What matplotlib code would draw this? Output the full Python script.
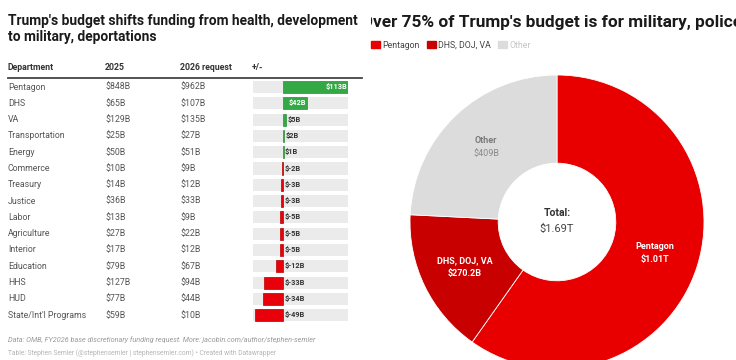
import numpy as np
import matplotlib
matplotlib.use("Agg")
import matplotlib.pyplot as plt
import matplotlib.patches as mpatches

plt.rcParams["font.family"] = ["Roboto", "DejaVu Sans"]

# table data (billions)
departments = ["Pentagon", "DHS", "VA", "Transportation", "Energy", "Commerce",
               "Treasury", "Justice", "Labor", "Agriculture", "Interior",
               "Education", "HHS", "HUD", "State/Int'l Programs"]
fy2025 = [848, 65, 129, 25, 50, 10, 14, 36, 13, 27, 17, 79, 127, 77, 59]
fy2026 = [962, 107, 135, 27, 51, 9, 12, 33, 9, 22, 12, 67, 94, 44, 10]
change = [113, 42, 5, 2, 1, -2, -3, -3, -5, -5, -5, -12, -33, -34, -49]
headers = ["Department", "2025", "2026 request", "+/-"]

# donut data
groups = ["Pentagon", "DHS, DOJ, VA", "Other"]
shares = [1010, 270.2, 409]
group_labels = ["$1.01T", "$270.2B", "$409B"]
total_label = "$1.69T"

W, H = 736, 360
fig = plt.figure(figsize=(W / 100, H / 100), dpi=100)
fig.patch.set_facecolor("white")


def px(left, top, width, height):
    return [left / W, 1 - (top + height) / H, width / W, height / H]


n = len(departments)
row0, step = 87, 16.3
top = row0 - step / 2
bot = row0 + step * (n - 1) + step / 2

# ---- left: table ----
fig.text(8 / W, 1 - 14 / H, "Trump's budget shifts funding from health, development\nto military, deportations",
         fontsize=9.9, fontweight="bold", color="#1a1a1a", va="top", ha="left", linespacing=1.15)

ax_t = fig.add_axes(px(0, top, 368, bot - top))
ax_t.set_xlim(0, 368)
ax_t.set_ylim(n - 0.5, -0.5)
ax_t.axis("off")
rows = np.arange(n)
hy = (68 - row0) / step
for x, h in zip([8, 105, 180, 252], headers):
    ax_t.text(x, hy, h, fontsize=6.3, fontweight="bold", color="#333333", va="center", clip_on=False)
ax_t.plot([8, 362], [(77.5 - row0) / step] * 2, color="#444444", lw=1.3, clip_on=False)
for i in rows:
    ax_t.text(8, i, departments[i], fontsize=6.3, color="#555555", va="center")
    ax_t.text(105, i, f"${fy2025[i]}B", fontsize=6.3, color="#555555", va="center")
    ax_t.text(180, i, f"${fy2026[i]}B", fontsize=6.3, color="#555555", va="center")

# bar column
ax_b = fig.add_axes(px(253, top, 95, bot - top))
xmin, xmax = -52.2, 113.0
ax_b.set_xlim(xmin, xmax)
ax_b.set_ylim(n - 0.5, -0.5)
ax_b.axis("off")
ax_b.barh(rows, xmax - xmin, left=xmin, height=0.74, color="#ebebeb")
cols = ["#34a844" if v > 0 else "#e8000b" for v in change]
edges = ["#2a9038" if v > 0 else "#b80000" for v in change]
ax_b.barh(rows, change, height=0.74, color=cols, edgecolor=edges, linewidth=0.5)
for i, v in enumerate(change):
    lab = f"${v}B"
    if v >= 20:
        ax_b.text(v - 1.5, i, lab, fontsize=5.3, fontweight="bold", color="white",
                  ha="right", va="center")
    else:
        ax_b.text(max(v, 0) + 2.5, i, lab, fontsize=5.3, fontweight="bold", color="#333333",
                  ha="left", va="center")

fig.text(8 / W, 1 - 340 / H,
         "Data: OMB, FY2026 base discretionary funding request. More: jacobin.com/author/stephen-semler",
         fontsize=5.2, style="italic", color="#9a9a9a", va="center")
fig.text(8 / W, 1 - 353 / H,
         "Table: Stephen Semler (@stephensemler | stephensemler.com) \u2022 Created with Datawrapper",
         fontsize=4.8, color="#b5b5b5", va="center")

# ---- right: donut ----
ax_h = fig.add_axes(px(371, 0, 365, 60))
ax_h.set_xlim(371, 736)
ax_h.set_ylim(60, 0)
ax_h.axis("off")
title_r = ax_h.text(361, 22, "Over 75% of Trump's budget is for military, police", fontsize=12.4,
                    fontweight="bold", color="#1a1a1a", va="center", ha="left")
title_r.set_clip_on(True)
title_r.set_clip_box(ax_h.bbox)

pie_cols = ["#e80000", "#c80000", "#dcdcdc"]
handles = [mpatches.Patch(color=c, label=g) for c, g in zip(pie_cols, groups)]
leg = ax_h.legend(handles=handles, loc="center left", bbox_to_anchor=(0.0, 0.25), ncol=3,
                  frameon=False, fontsize=6.3, handlelength=1.0, handleheight=1.0,
                  handletextpad=0.3, columnspacing=0.8, borderaxespad=0, borderpad=0)
for t, c in zip(leg.get_texts(), ["#444444", "#444444", "#c4c4c4"]):
    t.set_color(c)

R = 147
ax_p = fig.add_axes(px(557 - R, 222 - R, 2 * R, 2 * R))
wedges, _ = ax_p.pie(shares, colors=pie_cols, startangle=90, counterclock=False,
                     radius=1.0, wedgeprops=dict(width=0.6, edgecolor="white", linewidth=0.6))
ax_p.set_xlim(-1, 1)
ax_p.set_ylim(-1, 1)
ax_p.axis("off")
name_cols = ["white", "white", "#7a7a7a"]
val_cols = ["white", "white", "#8a8a8a"]
for w, g, lab, nc, vc in zip(wedges, groups, group_labels, name_cols, val_cols):
    ang = np.deg2rad((w.theta1 + w.theta2) / 2)
    x, y = 0.7 * np.cos(ang), 0.7 * np.sin(ang)
    ax_p.text(x, y + 0.045, g, fontsize=6.5, fontweight="bold", color=nc, ha="center", va="center")
    ax_p.text(x, y - 0.045, lab, fontsize=6.5, fontweight="bold" if nc == "white" else "normal",
              color=vc, ha="center", va="center")
ax_p.text(0, 0.06, "Total:", fontsize=7.5, fontweight="bold", color="#333333", ha="center", va="center")
ax_p.text(0, -0.045, total_label, fontsize=8, color="#444444", ha="center", va="center")

fig.savefig("out.png", dpi=100, facecolor="white")
